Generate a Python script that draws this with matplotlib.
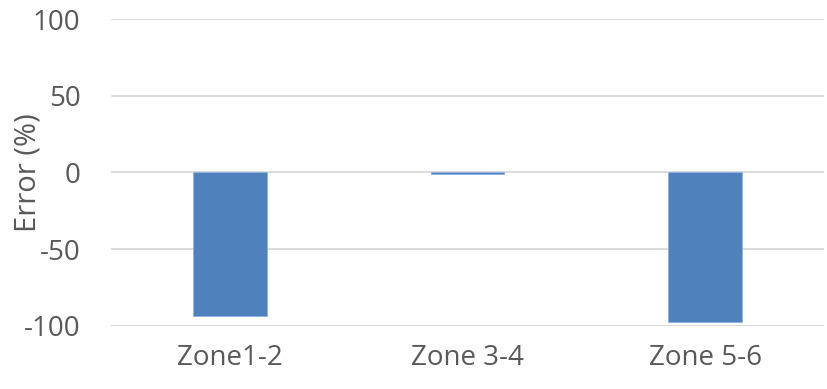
import matplotlib.pyplot as plt

zones = ['Zone1-2', 'Zone 3-4', 'Zone 5-6']
error_pct = [-93.5, -1.0, -97.5]

plt.rcParams['font.family'] = ['Open Sans', 'DejaVu Sans']
plt.rcParams['axes.unicode_minus'] = False

fig = plt.figure(figsize=(8.27, 3.89), dpi=100)
ax = fig.add_axes([111 / 827, 1 - 326 / 389, (824 - 111) / 827, (326 - 19) / 389])

x = range(len(zones))
ax.bar(x, error_pct, width=0.31, color='#4F81BD', edgecolor='#8EB4E3', linewidth=0.6, zorder=3)

ax.set_xlim(-0.5, len(zones) - 0.5)
ax.set_ylim(-100, 100)
ax.set_yticks([-100, -50, 0, 50, 100])
ax.yaxis.grid(True, color='#D9D9D9', linewidth=1.3, zorder=0)
ax.set_xticks(list(x))
ax.set_xticklabels(zones)
ax.tick_params(axis='both', length=0, labelsize=20, labelcolor='#595959')
ax.tick_params(axis='y', pad=22)
ax.tick_params(axis='x', pad=13)
for s in ax.spines.values():
    s.set_visible(False)
ax.axhline(-100, color='#D9D9D9', linewidth=1.5, zorder=1)

ax.set_ylabel('Error (%)', fontsize=21, color='#595959')
ax.yaxis.set_label_coords(-0.096, 0.5)

fig.savefig('out.png', dpi=100)
